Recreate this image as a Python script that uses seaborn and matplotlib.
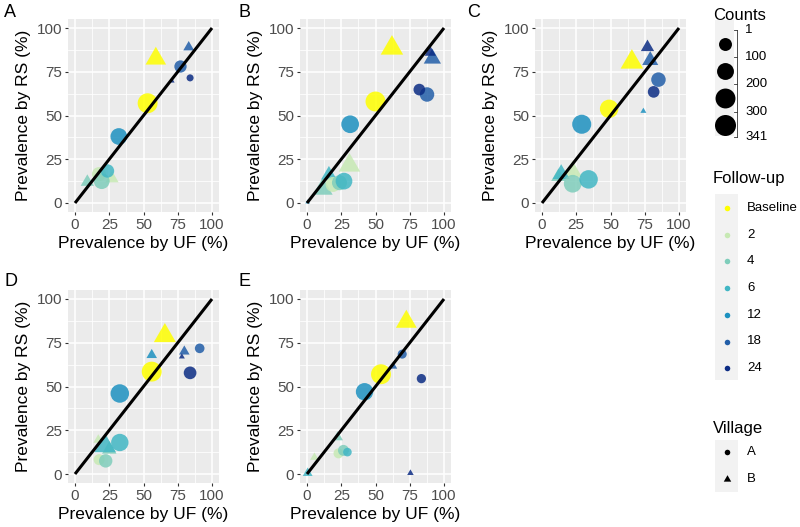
import numpy as np
import pandas as pd
import seaborn as sns
import matplotlib.pyplot as plt
from matplotlib.path import Path
from matplotlib.patches import Rectangle

followup_levels = ["Baseline", "2", "4", "6", "12", "18", "24"]
followup_colors = ["#FFFF00", "#C7E9B4", "#7FCDBB", "#41B6C4", "#1D91C0", "#225EA8", "#0C2C84"]
panels = ["A", "B", "C", "D", "E"]
tick_values = [0, 25, 50, 75, 100]
count_breaks = [1, 100, 200, 300, 341]

# one entry per point, grouped by panel
panel = ["A"] * 12 + ["B"] * 14 + ["C"] * 13 + ["D"] * 14 + ["E"] * 13
followup = [
    "Baseline", "Baseline", "2", "2", "4", "4", "6", "12", "18", "18", "24", "24",
    "Baseline", "Baseline", "2", "2", "4", "4", "6", "6", "12", "12", "18", "18", "24", "24",
    "Baseline", "Baseline", "2", "4", "4", "6", "6", "12", "12", "18", "18", "24", "24",
    "Baseline", "Baseline", "2", "2", "4", "4", "6", "6", "12", "12", "18", "18", "24", "24",
    "Baseline", "Baseline", "2", "2", "4", "4", "6", "6", "12", "18", "18", "24", "24",
]
village = [
    "A", "B", "A", "B", "A", "B", "A", "A", "A", "B", "A", "B",
    "A", "B", "A", "B", "A", "B", "A", "B", "A", "B", "A", "B", "A", "B",
    "A", "B", "B", "A", "B", "A", "B", "A", "B", "A", "B", "A", "B",
    "A", "B", "A", "B", "A", "B", "A", "B", "A", "B", "A", "B", "A", "B",
    "A", "B", "A", "B", "A", "B", "A", "B", "A", "A", "B", "A", "B",
]
uf = [
    53, 59, 17.5, 27, 19.5, 9, 23.7, 32, 77, 83, 84, 71,
    50, 62, 19, 31, 23.7, 11.5, 27, 16, 31.5, 0.5, 87.6, 91.5, 82, 90,
    49, 65.6, 22.4, 22.4, 12, 34, 14, 29, 74, 85, 79, 81.5, 77,
    56, 65.6, 17.6, 17, 22.4, 25, 32.7, 22, 32.7, 56, 91, 79.8, 84, 78,
    54, 72.5, 23, 5.4, 26.6, 22.4, 29.5, 0.5, 42, 69.5, 63, 83.5, 75.5,
]
rs = [
    57, 82.5, 16.5, 14, 12.5, 12, 18.3, 38, 78, 89, 71.5, 69.6,
    58, 88.5, 10.6, 21.5, 11.6, 8, 12.5, 16, 45, 0.5, 62, 82.5, 64.8, 86,
    53.8, 80.5, 18, 11, 15, 13.5, 16.5, 45, 52.5, 70.5, 81.5, 63.5, 89,
    58.5, 79, 8.2, 19.5, 7.5, 14, 18, 16, 46, 68, 71.8, 70, 57.8, 67,
    57, 87, 11.8, 9.5, 13.5, 21, 12.5, 0.5, 47, 68.5, 61.5, 54.5, 0.5,
]
counts = [
    300, 155, 125, 46, 170, 46, 110, 195, 87, 24, 15, 1,
    300, 195, 148, 175, 148, 140, 195, 75, 225, 1, 135, 97, 75, 28,
    250, 195, 115, 225, 60, 250, 97, 270, 2, 135, 80, 75, 46,
    300, 185, 63, 17, 110, 60, 215, 175, 250, 22, 43, 22, 95, 2,
    300, 160, 48, 10, 63, 22, 30, 17, 215, 35, 7, 38, 3,
]

df = pd.DataFrame({"panel": panel, "followup": followup, "village": village,
                   "uf": uf, "rs": rs, "counts": counts})
palette = dict(zip(followup_levels, followup_colors))


def point_area(c):
    # ggplot area scale: diameter from 3.5 px (count 1) to 21 px (count 341)
    d = 3.5 * (1 + 5 * np.sqrt((c - 1) / 340))
    return (d * 0.72) ** 2


# R style filled triangle (same area as the circle)
tri_path = Path([(0, 1.5551), (-1.3468, -0.7776), (1.3468, -0.7776), (0, 1.5551)],
                [Path.MOVETO, Path.LINETO, Path.LINETO, Path.CLOSEPOLY])
tri_scale = 1.5551 ** 2

plt.rcParams["font.family"] = ["Liberation Sans", "DejaVu Sans"]
fig = plt.figure(figsize=(8, 5.27), dpi=100)
W, H = 800, 527

leg = fig.add_axes([0, 0, 1, 1])
leg.set_xlim(0, W)
leg.set_ylim(H, 0)
leg.axis("off")

panel_boxes = {"A": (68.15, 19.25), "B": (300.15, 19.25), "C": (535.15, 19.25),
               "D": (68.15, 290.25), "E": (300.15, 290.25)}
letter_pos = {"A": (4, 12.5), "B": (238, 12.5), "C": (467, 12.5),
              "D": (4, 281.5), "E": (238, 281.5)}
pw, ph = 150.7, 192.5

for p in panels:
    x0, y0 = panel_boxes[p]
    ax = fig.add_axes([x0 / W, 1 - (y0 + ph) / H, pw / W, ph / H])
    ax.set_facecolor("#EBEBEB")
    sub = df[df["panel"] == p]
    for vil, mk, scale in [("B", tri_path, tri_scale), ("A", "o", 1.0)]:
        d = sub[sub["village"] == vil]
        if len(d) == 0:
            continue
        sizes = {c: point_area(c) * scale for c in d["counts"].unique()}
        sns.scatterplot(data=d, x="uf", y="rs", hue="followup", hue_order=followup_levels,
                        palette=palette, size="counts", sizes=sizes, marker=mk,
                        alpha=0.85, linewidth=0, legend=False, ax=ax, zorder=3)
    ax.plot([0, 100], [0, 100], color="black", lw=2.2, zorder=5, solid_capstyle="butt")
    ax.set_xlim(-5, 105)
    ax.set_ylim(-5, 105)
    ax.set_xticks(tick_values)
    ax.set_yticks(tick_values)
    ax.set_xticks([12.5, 37.5, 62.5, 87.5], minor=True)
    ax.set_yticks([12.5, 37.5, 62.5, 87.5], minor=True)
    ax.grid(which="major", color="white", lw=1.1)
    ax.grid(which="minor", color="white", lw=0.55)
    ax.set_axisbelow(True)
    for s in ax.spines.values():
        s.set_visible(False)
    ax.tick_params(which="major", length=2.5, width=0.8, color="#333333",
                   labelsize=11, labelcolor="#4D4D4D", pad=2)
    ax.tick_params(which="minor", length=0)
    ax.set_xlabel("Prevalence by UF (%)", fontsize=12.5, labelpad=3)
    ax.set_ylabel("Prevalence by RS (%)", fontsize=12.5, labelpad=4)
    lx, ly = letter_pos[p]
    leg.text(lx, ly, p, fontsize=13, ha="left", va="center")

# legend: Counts
leg.text(713, 16, "Counts", fontsize=12, ha="left", va="center")
leg.add_patch(Rectangle((715, 20), 19, 116, facecolor="#F2F2F2", edgecolor="none"))
tick_y = [30, 57, 84, 112, 137]
for i, c in enumerate(count_breaks[1:]):
    leg.scatter(724.5, (tick_y[i] + tick_y[i + 1]) / 2, s=point_area(c), color="black", lw=0)
leg.plot([737, 737], [tick_y[0], tick_y[-1]], color="#333333", lw=0.6)
for yv, c in zip(tick_y, count_breaks):
    leg.plot([734, 737], [yv, yv], color="#333333", lw=0.6)
    leg.text(745, yv, str(c), fontsize=9.5, ha="left", va="center")

# legend: Follow-up
leg.text(713, 178, "Follow-up", fontsize=12, ha="left", va="center")
leg.add_patch(Rectangle((715, 194), 23, 186, facecolor="#F2F2F2", edgecolor="none"))
for i, (lvl, col) in enumerate(zip(followup_levels, followup_colors)):
    yv = 208 + i * 26.7
    leg.scatter(726.5, yv, s=16, color=col, lw=0)
    leg.text(747, yv, lvl, fontsize=9.5, ha="left", va="center")

# legend: Village
leg.text(713, 428, "Village", fontsize=12, ha="left", va="center")
leg.add_patch(Rectangle((715, 440), 23, 52, facecolor="#F2F2F2", edgecolor="none"))
leg.scatter(726.5, 452, s=16, color="black", lw=0, marker="o")
leg.scatter(726.5, 479, s=16 * tri_scale, color="black", lw=0, marker=tri_path)
leg.text(747, 452, "A", fontsize=9.5, ha="left", va="center")
leg.text(747, 479, "B", fontsize=9.5, ha="left", va="center")

fig.savefig("out.png", dpi=100)
